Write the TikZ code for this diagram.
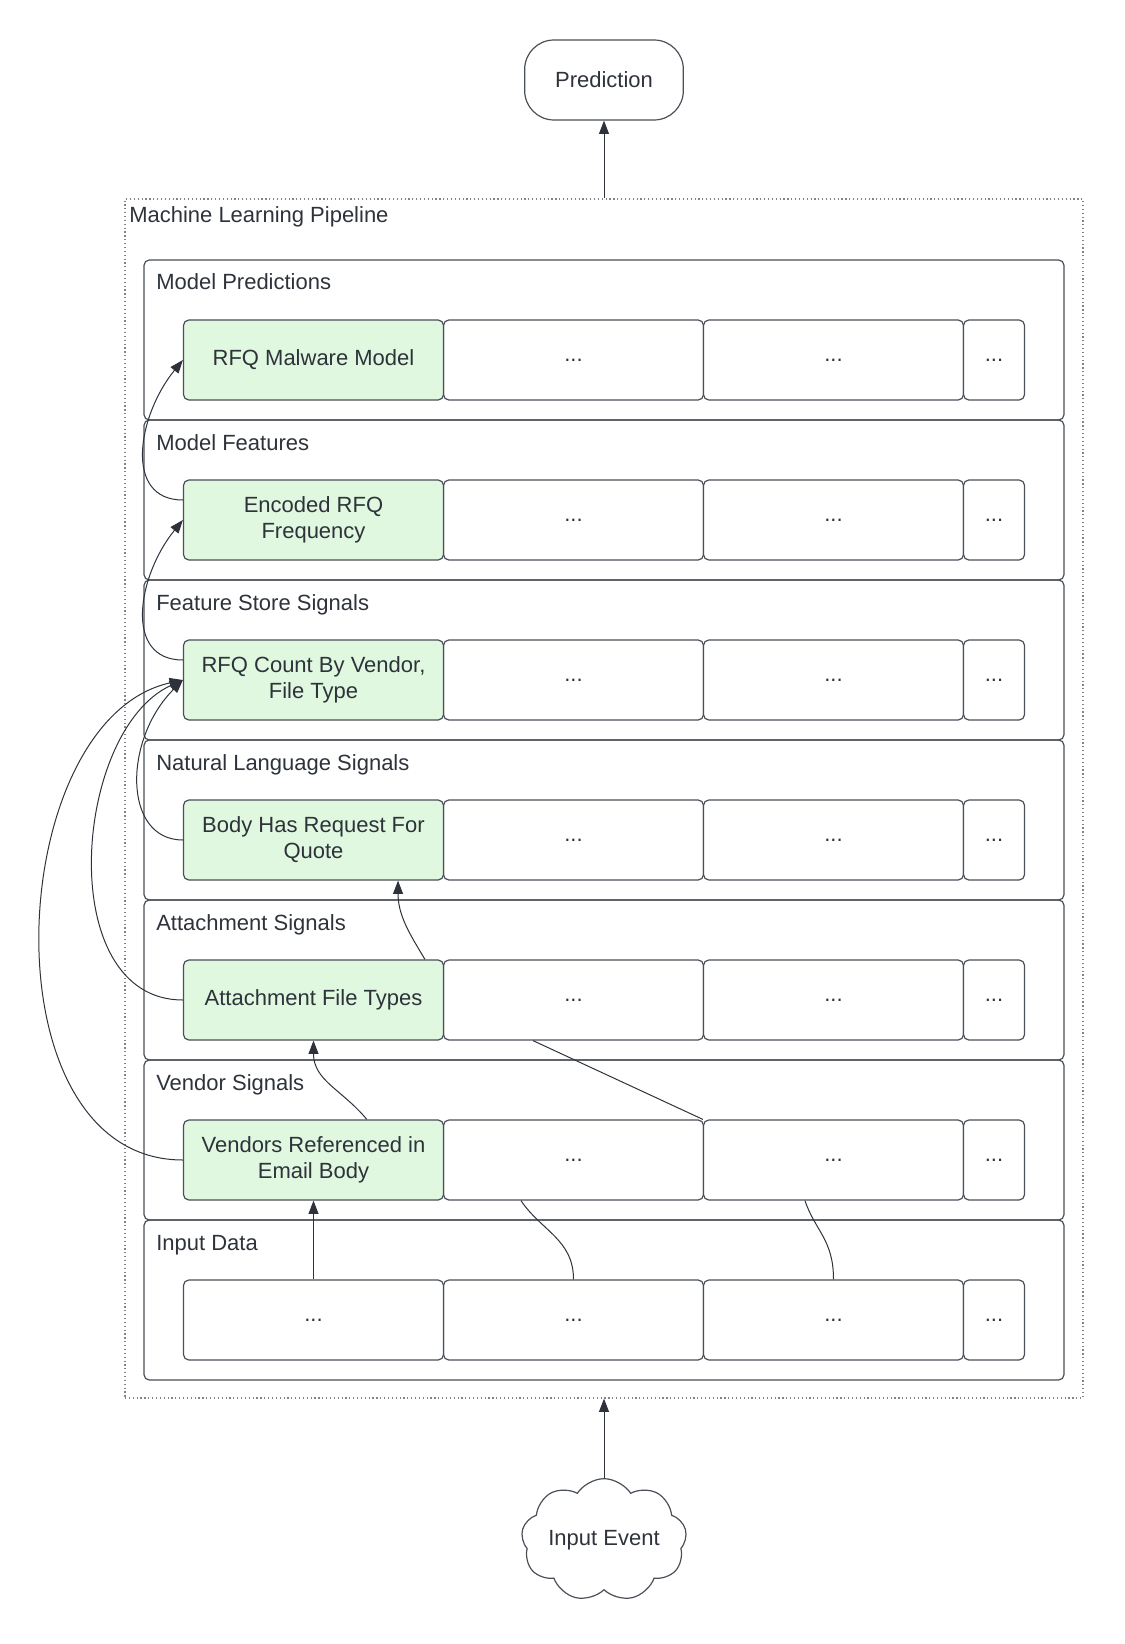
\documentclass[tikz,border=0pt]{standalone}
\usepackage{fontspec}
\setmainfont{Liberation Sans}
\usetikzlibrary{arrows.meta, shapes.symbols, positioning}
\definecolor{ink}{HTML}{2E333B}
\definecolor{edge}{HTML}{4A5058}
\definecolor{sig}{HTML}{E0F8DF}
\tikzset{
  box/.style={draw=edge, line width=0.9pt, rounded corners=4pt, inner sep=0pt, text=ink},
  layer/.style={box, minimum width=690pt, minimum height=120pt},
  cell/.style={box, fill=white, minimum width=195pt, minimum height=60pt, align=center},
  small/.style={cell, minimum width=45.75pt},
  signal/.style={cell, fill=sig},
  lbl/.style={text=ink, inner sep=0pt, anchor=base west},
  wire/.style={draw=ink, line width=0.75pt},
  arr/.style={wire, ->},
}
\begin{document}
\begin{tikzpicture}[x=0.75pt, y=-0.75pt, >={Triangle[length=10pt,width=7.5pt]}, font=\fontsize{16.5}{19.5}\selectfont]
\useasboundingbox (0,0) rectangle (1124,1644);
% pipeline frame
\node[draw=edge!70, dotted, line width=0.9pt, minimum width=718.5pt, minimum height=899.25pt, inner sep=0pt] (pipe) at (604,798.5) {};
\node[lbl] (pipe-lab) at (129,223) {Machine Learning Pipeline};
% layers
\foreach \r/\t/\lab in {mp/260/Model Predictions, mf/420/Model Features, fs/580/Feature Store Signals, nl/740/Natural Language Signals, as/900/Attachment Signals, vs/1060/Vendor Signals, id/1220/Input Data}{
  \node[layer] (\r) at (604,\t+80) {};
  \node[lbl] (\r-lab) at (156,\t+30) {\lab};
  \node[cell] (\r2) at (573.5,\t+100) {...};
  \node[cell] (\r3) at (833.5,\t+100) {...};
  \node[small] (\r4) at (994,\t+100) {...};
}
\node[signal] (mp1) at (313.5,360) {RFQ Malware Model};
\node[signal] (mf1) at (313.5,520) {Encoded RFQ\\Frequency};
\node[signal] (fs1) at (313.5,680) {RFQ Count By Vendor,\\File Type};
\node[signal] (nl1) at (313.5,840) {Body Has Request For\\Quote};
\node[signal] (as1) at (313.5,1000) {Attachment File Types};
\node[signal] (vs1) at (313.5,1160) {Vendors Referenced in\\Email Body};
\node[cell] (id1) at (313.5,1320) {...};
% in and out
\node[box, rounded corners=22pt, minimum width=119pt, minimum height=60pt] (pred) at (604,80) {Prediction};
\node[cloud, draw=edge, line width=0.9pt, cloud puffs=9, cloud puff arc=115, cloud ignores aspect, minimum width=124pt, minimum height=92pt, inner sep=0pt, text=ink] (event) at (604,1540) {Input Event};
\draw[arr] (pipe.north) -- (pred.south);
\draw[arr] (event.north) -- (event.north |- pipe.south);
% signal flow
\draw[arr] ([yshift=15pt]mf1.west) .. controls +(-60,0) and +(-45,55) .. (mp1.west);
\draw[arr] ([yshift=15pt]fs1.west) .. controls +(-60,0) and +(-45,55) .. (mf1.west);
\draw[arr] (nl1.west) .. controls +(-60,0) and +(-60,60) .. (fs1.west);
\draw[arr] (as1.west) .. controls +(-130,0) and +(-110,50) .. (fs1.west);
\draw[arr] (vs1.west) .. controls +(-200,0) and +(-180,40) .. (fs1.west);
\draw[arr] ([xshift=83.6pt]as1.north) .. controls +(-15,-25) and +(0,35) .. ([xshift=63.4pt]nl1.south);
\draw[arr] ([xshift=40pt]vs1.north) .. controls +(-25,-30) and +(0,40) .. (as1.south);
\draw[arr] (id1.north) -- (vs1.south);
\draw[wire] (id2.north) .. controls +(0,-40) and +(20,30) .. ([xshift=-39.4pt]vs2.south);
\draw[wire] (id3.north) .. controls +(0,-40) and +(10,30) .. ([xshift=-21.4pt]vs3.south);
\draw[wire] (vs3.north west) -- ([xshift=-30.4pt]as2.south);
\end{tikzpicture}
\end{document}
